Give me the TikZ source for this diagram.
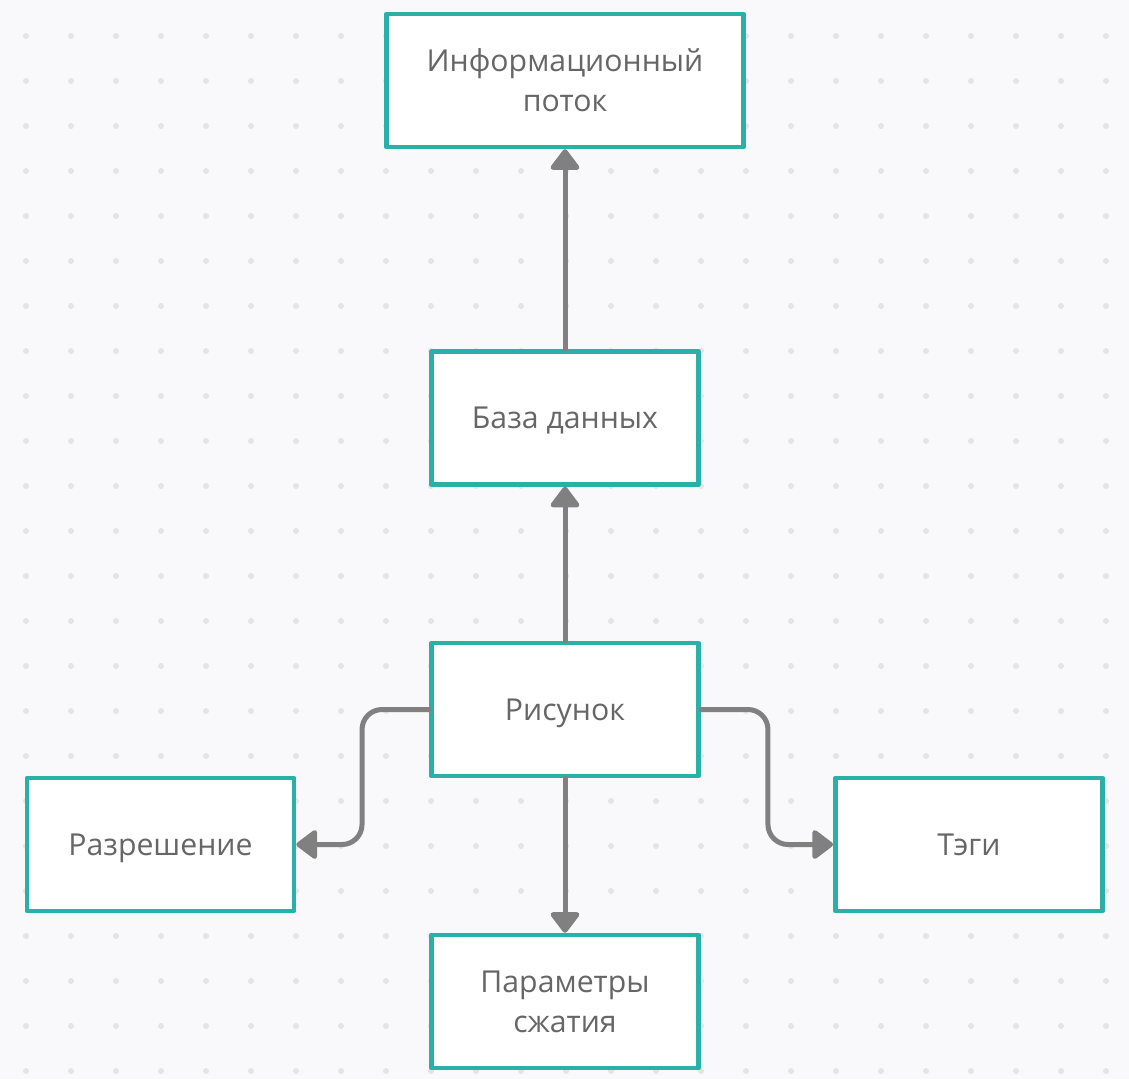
\documentclass[tikz,border=0pt]{standalone}
\usepackage{fontspec}
\setmainfont{Open Sans}
\usetikzlibrary{arrows.meta}
\definecolor{boxline}{HTML}{2BB0A8}
\definecolor{linegray}{HTML}{808080}
\definecolor{txtgray}{HTML}{666666}
\definecolor{bggray}{HTML}{F9F9FB}
\definecolor{dotgray}{HTML}{E4E4E8}
\begin{document}
\begin{tikzpicture}[line cap=round,line join=round,x=0.02cm,y=-0.02cm,
	box/.style={draw=boxline,line width=0.09cm,fill=white,minimum width=5.35cm,minimum height=2.66cm,align=center,text=txtgray,font=\fontsize{17.2}{22.7}\selectfont},
	single/.style={box,text depth=0pt},
	link/.style={draw=linegray,line width=0.1cm,rounded corners=0.4cm,-{Triangle[length=0.45cm,width=0.65cm,round]}}]
				\useasboundingbox (0,0) rectangle (1129,1079);
				\fill[bggray] (0,0) rectangle (1129,1079);
				\foreach \i in {0,...,24} \foreach \j in {0,...,23} \fill[dotgray] (26+45*\i,36+45*\j) circle (0.06cm);
				\node[box,minimum width=7.15cm] (info) at (565,80.5) {Информационный\\поток};
				\node[single] (db) at (565,418) {База данных};
				\node[single] (pic) at (565,709.5) {Рисунок};
				\node[single] (res) at (160.5,844.5) {Разрешение};
				\node[single] (tags) at (969,844.5) {Тэги};
				\node[box] (comp) at (565,1001.5) {Параметры\\сжатия};
				\draw[link] (db) -- (info);
				\draw[link] (pic) -- (db);
				\draw[link] (pic) -- (comp);
				\draw[link] (pic.west) -- ++(-67,0) |- (res.east);
				\draw[link] (pic.east) -- ++(67,0) |- (tags.west);
			\end{tikzpicture}
\end{document}
